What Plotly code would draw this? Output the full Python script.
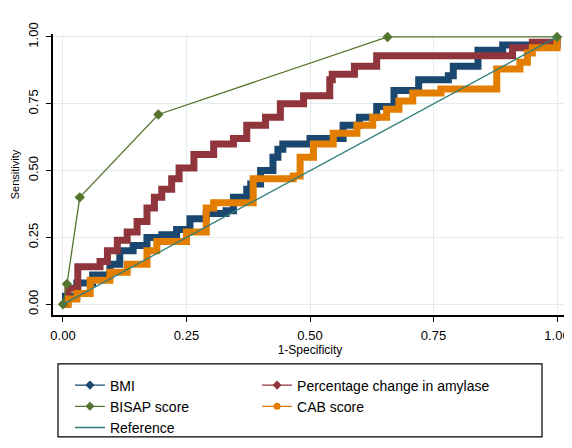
import plotly.graph_objects as go

# ---- data ----
bmi_x = [0, 0.005, 0.028, 0.06, 0.095, 0.115, 0.142, 0.17, 0.2, 0.23, 0.257, 0.29, 0.33, 0.345, 0.372, 0.38,
         0.40, 0.425, 0.435, 0.445, 0.50, 0.567, 0.60, 0.635, 0.67, 0.72, 0.78, 0.79, 0.84, 0.89, 1.0]
bmi_y = [0, 0.03, 0.08, 0.11, 0.15, 0.20, 0.22, 0.25, 0.26, 0.28, 0.32, 0.34, 0.35, 0.40, 0.43, 0.45,
         0.50, 0.55, 0.58, 0.60, 0.62, 0.67, 0.70, 0.74, 0.80, 0.84, 0.855, 0.89, 0.95, 0.97, 1.0]

amy_x = [0, 0.01, 0.03, 0.075, 0.09, 0.11, 0.13, 0.15, 0.17, 0.185, 0.2, 0.22, 0.235, 0.265, 0.305, 0.345,
         0.372, 0.41, 0.44, 0.487, 0.54, 0.545, 0.59, 0.635, 0.91, 0.95, 1.0]
amy_y = [0, 0.06, 0.14, 0.16, 0.20, 0.24, 0.27, 0.31, 0.36, 0.40, 0.43, 0.47, 0.51, 0.56, 0.60, 0.62,
         0.67, 0.70, 0.75, 0.78, 0.84, 0.86, 0.89, 0.93, 0.96, 0.98, 1.0]

bisap_x = [0, 0.008, 0.034, 0.193, 0.657, 1.0]
bisap_y = [0, 0.076, 0.40, 0.71, 1.0, 1.0]

cab_x = [0, 0.01, 0.028, 0.055, 0.095, 0.13, 0.17, 0.19, 0.25, 0.29, 0.305, 0.35, 0.385, 0.466, 0.48, 0.507,
         0.547, 0.595, 0.627, 0.655, 0.68, 0.708, 0.765, 0.87, 0.878, 0.925, 0.94, 0.95, 1.0]
cab_y = [0, 0.02, 0.04, 0.09, 0.12, 0.15, 0.20, 0.235, 0.27, 0.36, 0.38, 0.38, 0.47, 0.48, 0.55, 0.60,
         0.64, 0.67, 0.70, 0.73, 0.76, 0.79, 0.805, 0.805, 0.88, 0.905, 0.94, 0.96, 1.0]

ref_x = [0, 1]
ref_y = [0, 1]

ticks = [0, 0.25, 0.5, 0.75, 1.0]
tick_text = ["0.00", "0.25", "0.50", "0.75", "1.00"]

NAVY = "#1a476f"
MAROON = "#90353b"
GREEN = "#55752f"
ORANGE = "#e37e00"
TEAL = "#2f7f78"

fig = go.Figure()

def curve(x, y, color):
    fig.add_trace(go.Scatter(x=x, y=y, mode="lines", line=dict(color=color, width=7, shape="hv"),
                             showlegend=False, hoverinfo="skip", cliponaxis=False))

curve(bmi_x, bmi_y, NAVY)
curve(amy_x, amy_y, MAROON)
curve(cab_x, cab_y, ORANGE)
fig.add_trace(go.Scatter(x=bisap_x, y=bisap_y, mode="lines+markers",
                         line=dict(color=GREEN, width=1.3),
                         marker=dict(symbol="diamond", size=8, color=GREEN),
                         showlegend=False, cliponaxis=False))
fig.add_trace(go.Scatter(x=ref_x, y=ref_y, mode="lines", line=dict(color=TEAL, width=1.3),
                         showlegend=False, cliponaxis=False))

# legend entries (two columns = two legends)
def leg(name, color, symbol, legend):
    mode = "lines+markers" if symbol else "lines"
    fig.add_trace(go.Scatter(x=[None], y=[None], mode=mode, name=name, legend=legend,
                             line=dict(color=color, width=1.3),
                             marker=dict(symbol=symbol or "circle", size=7, color=color)))

leg("BMI", NAVY, "diamond", "legend")
leg("BISAP score", GREEN, "diamond", "legend")
leg("Reference", TEAL, None, "legend")
leg("Percentage change in amylase", MAROON, "diamond", "legend2")
leg("CAB score", ORANGE, "circle", "legend2")

axis_common = dict(
    tickvals=ticks, ticktext=tick_text, showgrid=True, gridcolor="#e3ebee", gridwidth=1,
    zeroline=False, showline=True, linecolor="black", linewidth=1.5, automargin=False,
    ticks="outside", ticklen=5, tickcolor="black",
    tickfont=dict(family="Liberation Sans, Arial", size=13, color="black"),
)

legend_common = dict(orientation="v", xanchor="left", yanchor="top", bgcolor="rgba(0,0,0,0)",
                     borderwidth=0, tracegroupgap=0,
                     font=dict(size=14, family="Liberation Sans, Arial", color="black"))

# page body has an 8px margin; the figure is sized so that it fills the window
fig.update_layout(
    width=564, height=440,
    margin=dict(l=45, r=5, t=26, b=126),
    paper_bgcolor="white", plot_bgcolor="white",
    font=dict(family="Liberation Sans, Arial", size=12, color="black"),
    xaxis=dict(range=[-0.0202, 1.0202], ticklabelstandoff=3,
               title=dict(text="1-Specificity", font=dict(size=12), standoff=1),
               **axis_common),
    yaxis=dict(range=[-0.040, 1.011], tickangle=-90, ticklabelstandoff=3,
               title=dict(text="Sensitivity", font=dict(size=11), standoff=4), **axis_common),
    legend=dict(x=0.033, y=-0.194, **legend_common),
    legend2=dict(x=0.397, y=-0.194, **legend_common),
    shapes=[dict(type="rect", xref="paper", yref="paper", x0=0.0097, x1=0.9514, y0=-0.434, y1=-0.1736,
                 line=dict(color="black", width=1.2), fillcolor="rgba(0,0,0,0)", layer="above")],
)

fig.write_html("out.html")
